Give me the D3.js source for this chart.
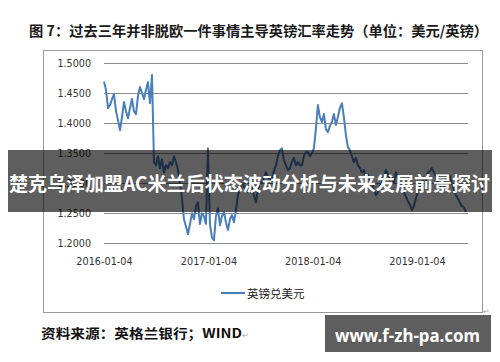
<!DOCTYPE html>
<html><head><meta charset="utf-8">
<script src="https://cdn.jsdelivr.net/npm/d3@7"></script>
<style>body{margin:0;background:#fff}svg{display:block}</style>
</head><body>
<svg id="c" width="500" height="362"></svg>
<script>
const titleText = "图 7：过去三年并非脱欧一件事情主导英镑汇率走势（单位：美元/英镑）";
const seriesName = "英镑兑美元";
const sourceText = "资料来源：英格兰银行；WIND";
const bannerText = "楚克乌泽加盟AC米兰后状态波动分析与未来发展前景探讨";
const watermarkText = "www.f-zh-pa.com";
const yTicks = [1.20, 1.25, 1.30, 1.35, 1.40, 1.45, 1.50];
const xTickLabels = ["2016-01-04", "2017-01-04", "2018-01-04", "2019-01-04"];
const startDate = "2016-01-04";
// weekly GBP/USD closes
const gbpusd = [
 1.469,1.455,1.425,1.430,1.440,1.448,1.420,1.405,1.388,1.410,
 1.435,1.420,1.408,1.425,1.440,1.420,1.415,1.445,1.460,1.450,
 1.440,1.455,1.468,1.433,1.480,1.335,1.330,1.345,1.325,1.340,
 1.318,1.330,1.325,1.335,1.330,1.345,1.335,1.322,1.300,1.275,
 1.240,1.228,1.215,1.232,1.250,1.240,1.262,1.268,1.232,1.250,
 1.245,1.232,1.358,1.232,1.210,1.205,1.245,1.258,1.230,1.245,
 1.252,1.235,1.222,1.240,1.247,1.235,1.255,1.280,1.290,1.300,
 1.295,1.290,1.285,1.292,1.297,1.280,1.268,1.290,1.302,1.300,
 1.310,1.318,1.310,1.305,1.308,1.320,1.330,1.345,1.355,1.358,
 1.338,1.330,1.322,1.325,1.335,1.342,1.330,1.335,1.330,1.330,
 1.345,1.352,1.352,1.345,1.350,1.358,1.390,1.430,1.410,1.402,
 1.415,1.390,1.385,1.395,1.402,1.415,1.397,1.410,1.425,1.433,
 1.410,1.380,1.360,1.355,1.345,1.335,1.342,1.330,1.325,1.318,
 1.322,1.310,1.315,1.305,1.300,1.290,1.280,1.285,1.295,1.302,
 1.310,1.322,1.315,1.305,1.310,1.300,1.318,1.310,1.298,1.295,
 1.285,1.278,1.270,1.265,1.255,1.262,1.275,1.285,1.295,1.302,
 1.310,1.305,1.318,1.320,1.325,1.318,1.310,1.302,1.298,1.290,
 1.295,1.305,1.310,1.313,1.300,1.290,1.280,1.275,1.268,1.262,
 1.260,1.252
];

const svg = d3.select("#c");
const parse = d3.timeParse("%Y-%m-%d");
const t0 = parse(startDate);
const data = gbpusd.map((v, i) => ({d: d3.timeDay.offset(t0, i * 7), v}));

const x = d3.scaleTime().domain([parse(xTickLabels[0]), parse(xTickLabels[3])]).range([104, 417]);
const y = d3.scaleLinear().domain([1.20, 1.50]).range([243.3, 63]);

// title
svg.append("text").attr("x", 29).attr("y", 36)
  .attr("textLength", 459).attr("lengthAdjust", "spacingAndGlyphs")
  .style("font-family", "'Noto Sans CJK SC'").style("font-weight", "bold")
  .style("font-size", "14px").attr("fill", "#1a1a1a").text(titleText);

// chart frame
svg.append("rect").attr("x", 43.5).attr("y", 50.5).attr("width", 439).attr("height", 262)
  .attr("fill", "#fff").attr("stroke", "#9a9a9a").attr("stroke-width", 1);

// grid + y axis
const yAxis = d3.axisLeft(y).tickValues(yTicks).tickFormat(d3.format(".4f")).tickSize(-364).tickPadding(13);
const gy = svg.append("g").attr("transform", "translate(104,0)").call(yAxis);
gy.select(".domain").remove();
gy.selectAll(".tick line").attr("stroke", "#8c8c8c").attr("stroke-width", 1).attr("shape-rendering", "crispEdges");
gy.selectAll(".tick text").attr("fill", "#333").style("font-family", "'DejaVu Sans'").style("font-size", "9.6px");

// x axis labels
const xAxis = d3.axisBottom(x).tickValues(xTickLabels.map(parse)).tickFormat(d3.timeFormat("%Y-%m-%d")).tickSize(0).tickPadding(0);
const gx = svg.append("g").attr("transform", "translate(0,258)").call(xAxis);
gx.select(".domain").remove();
gx.selectAll(".tick text").attr("fill", "#333").attr("dy", "0.75em").style("font-family", "'DejaVu Sans'").style("font-size", "9.7px");

// line
const line = d3.line().x(d => x(d.d)).y(d => y(d.v));
svg.append("path").datum(data).attr("d", line).attr("fill", "none")
  .attr("stroke", "#4a7ebb").attr("stroke-width", 2).attr("stroke-linejoin", "round");

// legend
svg.append("line").attr("x1", 221).attr("x2", 245).attr("y1", 293).attr("y2", 293)
  .attr("stroke", "#4a7ebb").attr("stroke-width", 2);
svg.append("text").attr("x", 247).attr("y", 297.5).attr("fill", "#222")
  .style("font-family", "'Noto Sans CJK SC'").style("font-size", "11.5px").text(seriesName);

// paragraph marks
svg.append("text").attr("x", 483).attr("y", 314).attr("fill", "#aaa").style("font-size", "8px").text("↵");

// source
svg.append("text").attr("x", 41).attr("y", 338).attr("textLength", 201).attr("lengthAdjust", "spacingAndGlyphs")
  .attr("fill", "#111").style("font-family", "'Noto Sans CJK SC'").style("font-weight", "bold")
  .style("font-size", "13px").text(sourceText);
svg.append("text").attr("x", 242).attr("y", 338).attr("fill", "#aaa").style("font-size", "8px").text("↵");

// overlay banner
svg.append("rect").attr("x", 8).attr("y", 150).attr("width", 484).attr("height", 62)
  .attr("fill", "#000").attr("fill-opacity", 0.63);
svg.append("text").attr("x", 9).attr("y", 190.5).attr("textLength", 481).attr("lengthAdjust", "spacingAndGlyphs")
  .attr("fill", "#fff").style("font-family", "'Noto Sans CJK SC'").style("font-weight", "bold")
  .style("font-size", "19.5px").text(bannerText);

// watermark box
svg.append("rect").attr("x", 325).attr("y", 315).attr("width", 166).attr("height", 37)
  .attr("fill", "#000").attr("fill-opacity", 0.63);
svg.append("text").attr("x", 335).attr("y", 342).attr("textLength", 145).attr("lengthAdjust", "spacingAndGlyphs")
  .attr("fill", "#fff").style("font-family", "'Noto Sans'").style("font-weight", "bold")
  .style("font-size", "17px").text(watermarkText);
</script>
</body></html>
